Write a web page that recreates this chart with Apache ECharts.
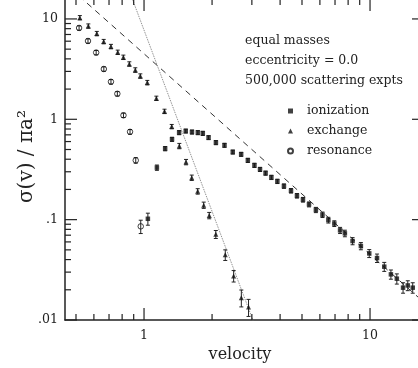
<!DOCTYPE html>
<html>
<head>
<meta charset="utf-8">
<script src="https://cdn.jsdelivr.net/npm/echarts@6/dist/echarts.min.js"></script>
<style>html,body{margin:0;padding:0;background:#fff;}#c{width:418px;height:368px;background:#fff;}</style>
</head>
<body>
<div id="c"></div>
<script>
// ---- data ----
const ionV = [1.04,1.14,1.24,1.33,1.43,1.53,1.63,1.73,1.82,1.93,2.08,2.27,2.47,2.69,2.88,3.08,3.26,3.45,3.66,3.89,4.16,4.47,4.75,5.05,5.37,5.76,6.16,6.54,6.95,7.37,7.74,8.37,9.11,9.92,10.74,11.56,12.37,13.14,14.0,14.69,15.45];
const ionS = [0.102,0.33,0.51,0.632,0.737,0.764,0.747,0.737,0.725,0.657,0.586,0.551,0.472,0.448,0.39,0.348,0.317,0.291,0.264,0.241,0.216,0.194,0.173,0.158,0.142,0.125,0.112,0.099,0.0914,0.0782,0.073,0.0612,0.0546,0.0461,0.0414,0.034,0.0285,0.0258,0.021,0.0221,0.021];
const ionE = [0.014,0.02,0.025,0.03,0.035,0.035,0.035,0.035,0.035,0.03,0.028,0.026,0.022,0.021,0.019,0.017,0.015,0.014,0.013,0.012,0.011,0.01,0.009,0.0085,0.008,0.0075,0.007,0.0065,0.006,0.0055,0.0055,0.005,0.0045,0.0042,0.004,0.0035,0.003,0.003,0.0025,0.0025,0.0025];

const exV = [0.52,0.567,0.618,0.663,0.714,0.765,0.81,0.861,0.915,0.963,1.034,1.134,1.232,1.326,1.433,1.534,1.626,1.728,1.837,1.943,2.078,2.288,2.492,2.695,2.9];
const exS = [10.3,8.5,7.15,5.95,5.31,4.66,4.15,3.56,3.10,2.70,2.32,1.62,1.20,0.846,0.542,0.375,0.262,0.1915,0.1395,0.110,0.0714,0.0446,0.0275,0.0167,0.01345];
const exE = [0.5,0.42,0.36,0.30,0.27,0.23,0.21,0.18,0.16,0.135,0.12,0.08,0.06,0.042,0.033,0.023,0.016,0.012,0.010,0.008,0.0065,0.0054,0.0036,0.0032,0.0026];

const resV = [0.516,0.565,0.614,0.664,0.714,0.762,0.811,0.867,0.919,0.967];
const resS = [8.13,6.03,4.62,3.17,2.365,1.796,1.096,0.75,0.39,0.0857];
const resE = [0.4,0.3,0.23,0.16,0.12,0.09,0.055,0.04,0.025,0.013];

// reference lines (sigma ~ v^-2 dashed, sigma ~ v^-6 dotted)
const dashX = [0.4, 18];
const dashY = [28.1, 0.01389];
const dotX = [0.85, 3.1];
const dotY = [20.5, 0.00872];

// axis ticks and labels
const xMajor = [1, 10];
const xMinor = [0.5,0.6,0.7,0.8,0.9,2,3,4,5,6,7,8,9];
const xLabels = ['1','10'];
const yMajor = [0.01,0.1,1,10];
const yMinor = [0.02,0.03,0.04,0.05,0.06,0.07,0.08,0.09,0.2,0.3,0.4,0.5,0.6,0.7,0.8,0.9,2,3,4,5,6,7,8,9];
const yLabels = ['.01','.1','1','10'];

const infoLines = ['equal masses','eccentricity = 0.0','500,000 scattering expts'];

// ---- chart ----
const FONT = 'DejaVu Serif';
const INK = '#222';
const X_MIN = 0.447, X_MAX = 17.33, Y_MIN = 0.01, Y_MAX = 15.8;
const W = 418, H = 368;
const GRID = {left: 65, right: -6, top: -1, bottom: 48};

function nearIdx(arr, v){
  for (let i=0;i<arr.length;i++){ if (Math.abs(Math.log10(v)-Math.log10(arr[i]))<1e-6) return i; }
  return -1;
}

function errItem(params, api){
  const x = api.value(0), y = api.value(1), e = api.value(2);
  const top = api.coord([x, y + e]);
  const bot = api.coord([x, Math.max(y - e, 1e-6)]);
  const cw = 2;
  const st = {stroke: INK, lineWidth: 1};
  return {type:'group', children:[
    {type:'line', shape:{x1:top[0], y1:top[1], x2:bot[0], y2:bot[1]}, style:st},
    {type:'line', shape:{x1:top[0]-cw, y1:top[1], x2:top[0]+cw, y2:top[1]}, style:st},
    {type:'line', shape:{x1:bot[0]-cw, y1:bot[1], x2:bot[0]+cw, y2:bot[1]}, style:st}
  ]};
}

const zip3 = (a,b,c) => a.map((v,i)=>[v,b[i],c[i]]);
const zip2 = (a,b) => a.map((v,i)=>[v,b[i]]);
const xTickData = xMajor.map(v=>[v, 12]).concat(xMinor.map(v=>[v, 6]));
const yTickData = yMajor.map(v=>[v, 12]).concat(yMinor.map(v=>[v, 6]));

const chart = echarts.init(document.getElementById('c'), null, {renderer:'canvas'});
chart.setOption({
  animation: false,
  title: {
    text: infoLines.join('\n'),
    left: 240, top: 26,
    textStyle: {fontFamily: FONT, fontSize: 12.5, fontWeight: 'normal', color: INK, lineHeight: 20}
  },
  legend: {
    orient: 'vertical', left: 282, top: 99,
    itemWidth: 5, itemHeight: 5, itemGap: 6,
    data: ['ionization','exchange','resonance'],
    textStyle: {fontFamily: FONT, fontSize: 12.5, color: INK, lineHeight: 14, padding: [0,0,0,9]}
  },
  grid: {left: GRID.left, right: GRID.right, top: GRID.top, bottom: GRID.bottom, outerBoundsMode: 'none'},
  xAxis: {
    type: 'log', min: X_MIN, max: X_MAX,
    axisLine: {show: true, lineStyle: {color: INK, width: 1.5}},
    axisTick: {show: false},
    splitLine: {show: false},
    axisLabel: {
      showMinLabel: false, showMaxLabel: false, margin: 9,
      fontFamily: FONT, fontSize: 12.5, color: INK,
      formatter: v => { const i = nearIdx(xMajor, v); return i >= 0 ? xLabels[i] : ''; }
    },
    name: 'velocity', nameLocation: 'middle', nameGap: 27, nameMoveOverlap: false,
    nameTextStyle: {fontFamily: FONT, fontSize: 16, color: INK, padding: [0, 9, 0, 0]}
  },
  yAxis: {
    type: 'log', min: Y_MIN, max: Y_MAX,
    axisLine: {show: true, lineStyle: {color: INK, width: 1.5}},
    axisTick: {show: false},
    splitLine: {show: false},
    axisLabel: {
      showMinLabel: true, showMaxLabel: false, margin: 7,
      fontFamily: FONT, fontSize: 12.5, color: INK,
      formatter: v => { const i = nearIdx(yMajor, v); return i >= 0 ? yLabels[i] : ''; }
    },
    name: 'σ(v) / πa²', nameLocation: 'middle', nameGap: 28, nameMoveOverlap: false,
    nameTextStyle: {fontFamily: FONT, fontSize: 20, color: INK, padding: [0, 0, 0, 6]}
  },
  series: [
    {name:'dash', type:'line', data: zip2(dashX, dashY), symbol:'none', clip:true, silent:true,
     lineStyle:{color:'#333', width:1, type:[6,5]}, z:2},
    {name:'dot', type:'line', data: zip2(dotX, dotY), symbol:'none', clip:true, silent:true,
     lineStyle:{color:'#777', width:0.8, type:[1.5,1]}, z:2},
    {name:'ionErr', type:'custom', renderItem: errItem, data: zip3(ionV, ionS, ionE), encode:{x:0,y:1}, clip:true, z:3},
    {name:'exErr', type:'custom', renderItem: errItem, data: zip3(exV, exS, exE), encode:{x:0,y:1}, clip:true, z:3},
    {name:'resErr', type:'custom', renderItem: errItem, data: zip3(resV, resS, resE), encode:{x:0,y:1}, clip:true, z:3},
    {name:'ionization', type:'scatter', data: zip2(ionV, ionS), symbol:'rect', symbolSize:4.5,
     itemStyle:{color:'#111'}, z:4},
    {name:'exchange', type:'scatter', data: zip2(exV, exS), symbol:'triangle', symbolSize:5,
     itemStyle:{color:'#111'}, z:4},
    {name:'resonance', type:'scatter', data: zip2(resV, resS), symbol:'circle', symbolSize:5.5,
     itemStyle:{color:'rgba(255,255,255,0)', borderColor:'#111', borderWidth:1}, z:4}
  ]
});

// inward tick marks on all four frame edges; positions along each axis come from the chart's own scales
(function drawTicks(){
  const px = v => chart.convertToPixel({gridIndex: 0}, v);
  const fin = n => typeof n === 'number' && isFinite(n);
  const left = GRID.left, right = W - GRID.right, top = GRID.top, bottom = H - GRID.bottom;
  const els = [];
  const st = {stroke: INK, lineWidth: 1.2};
  xTickData.forEach(t => {
    const p = px([t[0], 1]);
    const x = p && p[0];
    if (!fin(x)) return;
    els.push({type:'line', z:50, silent:true, shape:{x1:x, y1:bottom, x2:x, y2:bottom - t[1]}, style:st});
    els.push({type:'line', z:50, silent:true, shape:{x1:x, y1:top, x2:x, y2:top + t[1]}, style:st});
  });
  yTickData.forEach(t => {
    const p = px([1, t[0]]);
    const y = p && p[1];
    if (!fin(y)) return;
    els.push({type:'line', z:50, silent:true, shape:{x1:left, y1:y, x2:left + t[1], y2:y}, style:st});
    els.push({type:'line', z:50, silent:true, shape:{x1:right, y1:y, x2:right - t[1], y2:y}, style:st});
  });
  chart.setOption({graphic: els});
})();
</script>
</body>
</html>
